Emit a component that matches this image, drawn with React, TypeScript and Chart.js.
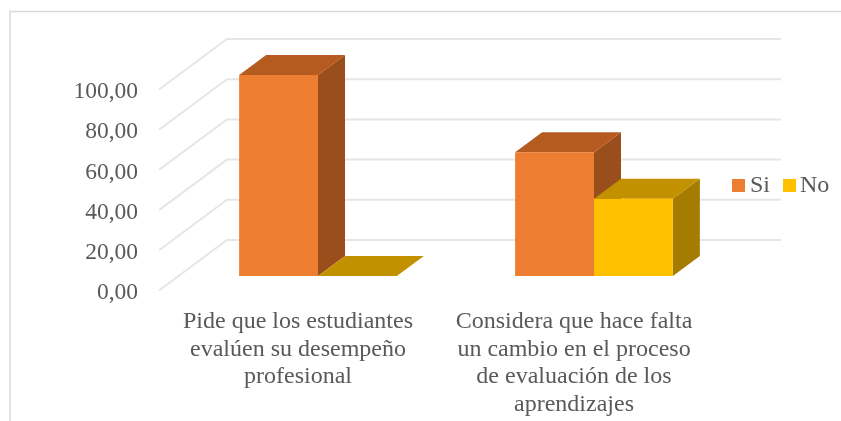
import React, { useEffect, useRef } from "react";
import { Chart, registerables } from "chart.js";

Chart.register(...registerables);

const categories: string[][] = [
  ["Pide que los estudiantes", "evalúen su desempeño", "profesional"],
  ["Considera que hace falta", "un cambio en el proceso", "de evaluación de los", "aprendizajes"],
];
const seriesSi: number[] = [100, 61.54];
const seriesNo: number[] = [0, 38.46];

const FONT = "'Liberation Serif', 'Times New Roman', serif";
const TEXT = "#595959";
const FONT_SIZE = 24;

const BAR_SHIFT = { x: 20, y: -14 };
const BAR_DEPTH = { x: 27, y: -20 };
const WALL_DEPTH = { x: 67, y: -50 };
const GRID_RIGHT = 781;

const faces: Record<string, { top: string; side: string }> = {
  Si: { top: "#B65B20", side: "#9A4E1B" },
  No: { top: "#C19100", side: "#A67C00" },
};

function poly(ctx: CanvasRenderingContext2D, pts: number[][], fill: string) {
  ctx.beginPath();
  pts.forEach(([x, y], i) => (i ? ctx.lineTo(x, y) : ctx.moveTo(x, y)));
  ctx.closePath();
  ctx.fillStyle = fill;
  ctx.fill();
}

const scene3d = {
  id: "scene3d",
  beforeDraw(chart: any) {
    const { ctx, scales, chartArea } = chart;
    ctx.save();
    // chart frame
    ctx.strokeStyle = "#D9D9D9";
    ctx.lineWidth = 1.5;
    ctx.beginPath();
    ctx.moveTo(10, 421);
    ctx.lineTo(10, 11.5);
    ctx.lineTo(841, 11.5);
    ctx.stroke();
    // gridlines folded over the side wall and back wall
    ctx.strokeStyle = "#E6E6E6";
    ctx.lineWidth = 2;
    for (const t of scales.y.ticks) {
      const y = scales.y.getPixelForValue(t.value);
      ctx.beginPath();
      ctx.moveTo(chartArea.left - 1, y + 0.5);
      ctx.lineTo(chartArea.left + WALL_DEPTH.x, y + WALL_DEPTH.y);
      ctx.lineTo(GRID_RIGHT, y + WALL_DEPTH.y);
      ctx.stroke();
    }
    ctx.restore();
  },
  beforeDatasetsDraw(chart: any) {
    const { ctx } = chart;
    ctx.save();
    ctx.translate(BAR_SHIFT.x, BAR_SHIFT.y);
    chart.data.datasets.forEach((ds: any, di: number) => {
      const f = faces[ds.label];
      chart.getDatasetMeta(di).data.forEach((el: any) => {
        const l = el.x - el.width / 2;
        const r = el.x + el.width / 2;
        const t = el.y;
        const b = el.base;
        const dx = BAR_DEPTH.x;
        const dy = BAR_DEPTH.y;
        if (b - t > 0.5) {
          poly(ctx, [[r, t], [r + dx, t + dy], [r + dx, b + dy], [r, b]], f.side);
        }
        poly(ctx, [[l, t], [l + dx, t + dy], [r + dx, t + dy], [r, t]], f.top);
      });
    });
  },
  afterDatasetsDraw(chart: any) {
    chart.ctx.restore();
  },
  afterDraw(chart: any) {
    const { ctx } = chart;
    ctx.save();
    ctx.font = `${FONT_SIZE}px ${FONT}`;
    ctx.textBaseline = "middle";
    ctx.textAlign = "left";
    const slots = [
      { box: 732, text: 750 },
      { box: 783, text: 800 },
    ];
    chart.data.datasets.forEach((ds: any, i: number) => {
      ctx.fillStyle = ds.backgroundColor;
      ctx.fillRect(slots[i].box, 179, 13, 13);
      ctx.fillStyle = TEXT;
      ctx.fillText(ds.label, slots[i].text, 186);
    });
    ctx.restore();
  },
};

export default function App() {
  const ref = useRef<HTMLCanvasElement>(null);
  useEffect(() => {
    const chart = new Chart(ref.current as HTMLCanvasElement, {
      type: "bar",
      data: {
        labels: categories as any,
        datasets: [
          { label: "Si", data: seriesSi, backgroundColor: "#ED7D31", clip: false as any },
          { label: "No", data: seriesNo, backgroundColor: "#FFC000", clip: false as any },
        ],
      },
      options: {
        responsive: false,
        animation: false,
        layout: { padding: { left: 0, right: 129, top: 89, bottom: 0 } },
        datasets: { bar: { categoryPercentage: 0.5715, barPercentage: 1 } },
        plugins: { legend: { display: false }, title: { display: false }, tooltip: { enabled: false } },
        scales: {
          x: {
            offset: true,
            grid: { display: false },
            border: { display: false },
            afterFit: (s: any) => { s.height = 131; },
            ticks: {
              autoSkip: false,
              maxRotation: 0,
              minRotation: 0,
              padding: 10,
              color: TEXT,
              font: { family: FONT, size: FONT_SIZE, lineHeight: 1.153 },
            },
          },
          y: {
            min: 0,
            max: 100,
            grid: { display: false },
            border: { display: false },
            afterFit: (s: any) => { s.width = 160; },
            ticks: {
              stepSize: 20,
              padding: 14,
              labelOffset: 3,
              color: TEXT,
              font: { family: FONT, size: 23.5 },
              callback: (v: any) => Number(v).toFixed(2).replace(".", ","),
            },
          },
        },
      },
      plugins: [scene3d as any],
    });
    return () => chart.destroy();
  }, []);
  return (
    <div style={{ position: "fixed", left: 0, top: 0, width: 841, height: 421, background: "#fff" }}>
      <canvas ref={ref} width={841} height={421} style={{ display: "block" }} />
    </div>
  );
}
